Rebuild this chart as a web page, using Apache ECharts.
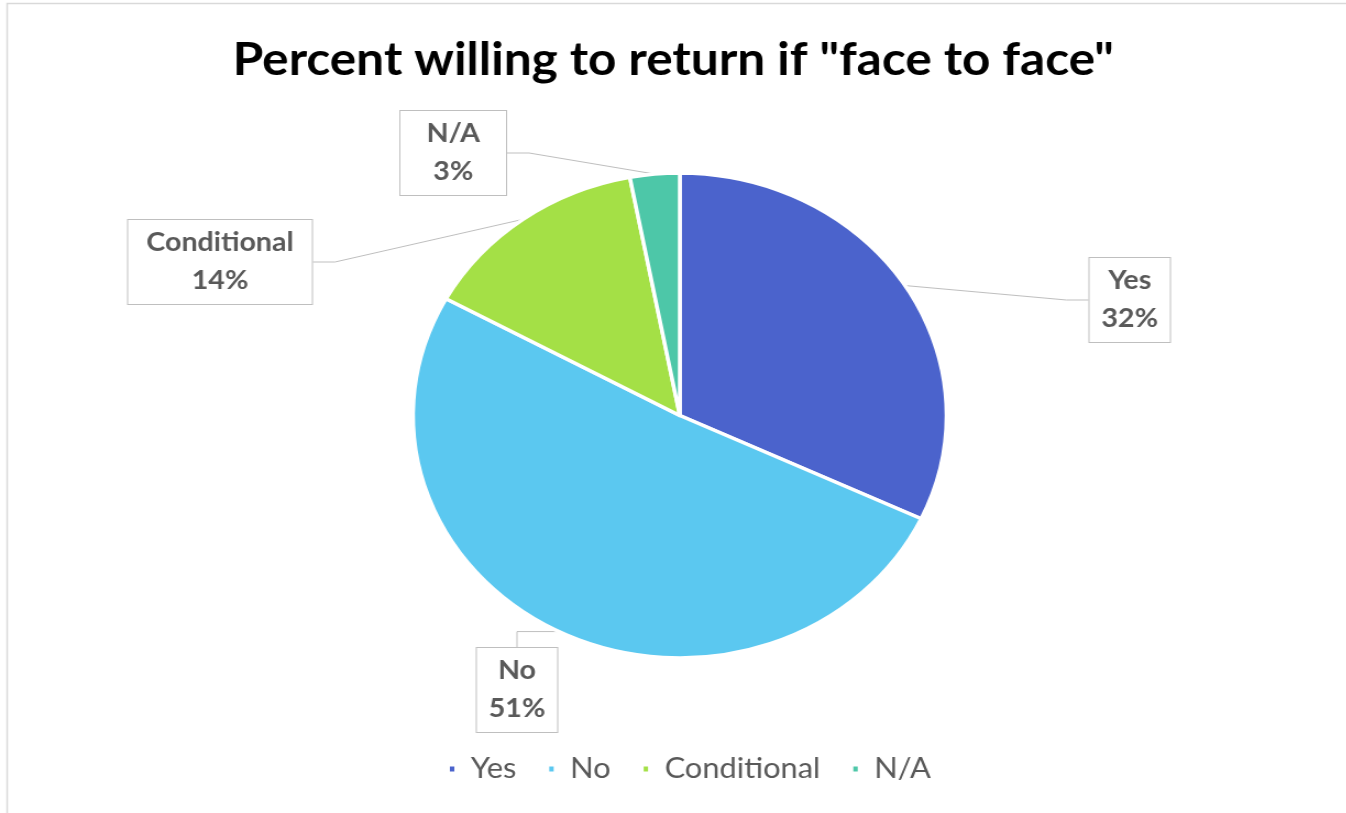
<!DOCTYPE html>
<html>
<head>
<meta charset="utf-8">
<script src="https://cdn.jsdelivr.net/npm/echarts@6/dist/echarts.min.js"></script>
<style>
html,body{margin:0;padding:0;background:#fff;overflow:hidden;}
#wrap{width:1346px;height:813px;overflow:hidden;position:relative;}
#chart{width:1224px;height:813px;transform:scaleX(1.1);transform-origin:0 0;position:absolute;left:0;top:0;}
</style>
</head>
<body>
<div id="wrap"><div id="chart"></div></div>
<script>
const titleText = 'Percent willing to return if "face to face"';
const categories = ['Yes', 'No', 'Conditional', 'N/A'];
const percentValues = [32, 51, 14, 3];
const sliceColors = ['#4B63CC', '#5BC8F0', '#A4E046', '#4DC7A8'];

// label box placement (chart coordinates) and box width per slice
const labelPlace = {
  'Yes': {x: 1027, y: 300, w: 73},
  'No': {x: 470, y: 690, w: 73},
  'Conditional': {x: 200, y: 262, w: 167},
  'N/A': {x: 412, y: 153, w: 96}
};

const chart = echarts.init(document.getElementById('chart'));
const data = categories.map((c, i) => ({
  name: c,
  value: percentValues[i],
  itemStyle: {color: sliceColors[i]},
  label: {width: labelPlace[c].w}
}));

chart.setOption({
  backgroundColor: '#fff',
  animation: false,
  graphic: [{
    type: 'rect', silent: true,
    shape: {x: 6.5, y: 3.5, width: 3000, height: 3000},
    style: {fill: 'none', stroke: '#d9d9d9', lineWidth: 1.5}
  }],
  title: {
    text: titleText,
    left: 'center',
    top: 33,
    textStyle: {fontFamily: 'Lato', fontWeight: 'bold', fontSize: 45, color: '#000'}
  },
  legend: {
    data: categories,
    left: 407,
    top: 755,
    padding: 0,
    icon: 'rect',
    itemWidth: 6,
    itemHeight: 7,
    itemGap: 28,
    textStyle: {fontFamily: 'Lato', fontSize: 28, color: '#595959', padding: [0, 0, 0, 9]}
  },
  series: [{
    type: 'pie',
    center: [618, 415.5],
    radius: [0, 242.5],
    startAngle: 90,
    clockwise: true,
    data: data,
    itemStyle: {borderColor: '#fff', borderWidth: 3.5},
    label: {
      show: true,
      position: 'outside',
      formatter: '{b}\n{c}%',
      fontFamily: 'Lato',
      fontWeight: 'bold',
      fontSize: 26,
      lineHeight: 38,
      color: '#595959',
      backgroundColor: '#fff',
      borderColor: '#bfbfbf',
      borderWidth: 1,
      padding: [4, 0],
      align: 'center'
    },
    labelLine: {show: true, length: 20, length2: 20, lineStyle: {color: '#bfbfbf', width: 1}},
    labelLayout: function (p) {
      const pl = labelPlace[categories[p.dataIndex]];
      return {x: pl.x, y: pl.y, align: 'center', verticalAlign: 'middle'};
    },
    emphasis: {disabled: true}
  }]
});
</script>
</body>
</html>
